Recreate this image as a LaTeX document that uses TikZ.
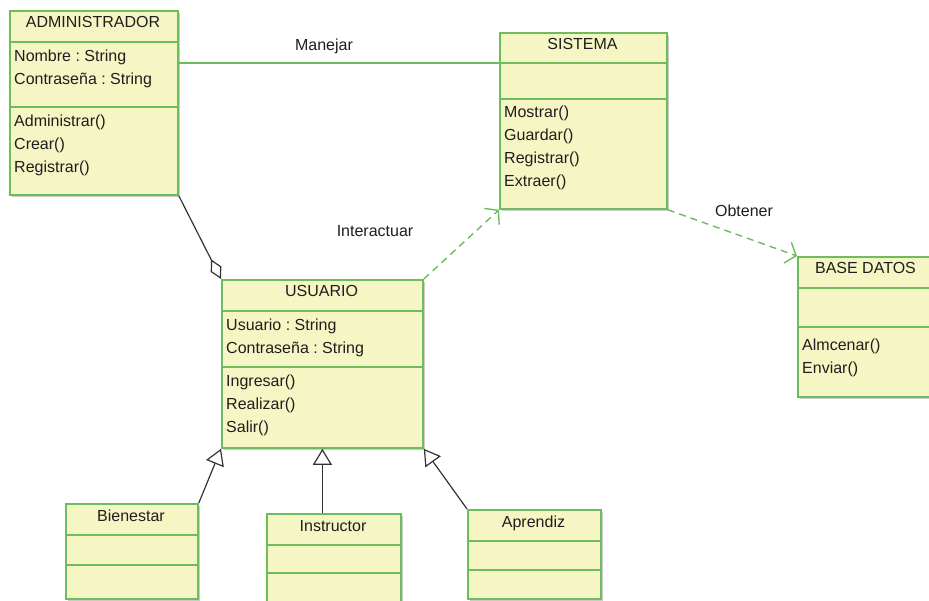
\documentclass[tikz,border=0pt]{standalone}
\usepackage{fontspec}
\setmainfont{Liberation Sans}
\usetikzlibrary{arrows.meta,shadows}
\frenchspacing

\definecolor{umlfill}{RGB}{246,246,196}
\definecolor{umlline}{RGB}{108,190,92}
\definecolor{umltext}{RGB}{30,30,30}

\tikzset{
  classbox/.style={draw=umlline,fill=umlfill,line width=1.8pt,inner sep=0pt,anchor=north west,
    drop shadow={shadow xshift=2pt,shadow yshift=-2pt,opacity=0.5,fill=black!40}},
  divider/.style={draw=umlline,line width=1.5pt},
  member/.style={font=\fontsize{16}{20}\selectfont,text=umltext,anchor=base west,inner sep=0pt},
  title/.style={member,anchor=base},
  assoc/.style={draw=umlline,line width=1.2pt},
  depend/.style={draw=umlline,line width=1.4pt,dash pattern=on 7pt off 5pt,
    -{Straight Barb[length=9pt,width=22pt,line width=1.4pt]}},
  aggreg/.style={draw=black!80,line width=1.2pt,{Diamond[open,length=22pt,width=12pt,fill=white]}-},
  inherit/.style={draw=black!80,line width=1.2pt,-{Triangle[open,length=16pt,width=19pt,fill=white]}},
}

\begin{document}
\begin{tikzpicture}[x=1pt,y=-1pt]
  \useasboundingbox[fill=white] (0,0) rectangle (929,601);

  % class boxes: name/left/top/right/bottom/divider1/divider2/title
  \foreach \n/\l/\t/\r/\b/\da/\db/\title in {
      admin/9/10/177/194/42/107/ADMINISTRADOR,
      sistema/499/32/666/208/63/99/SISTEMA,
      base/797/256/934/396/288/327/BASE DATOS,
      usuario/221/279/422/447/311/367/USUARIO,
      bienestar/65/503/197/598/535/565/Bienestar,
      instructor/266/513/400/610/545/573/Instructor,
      aprendiz/467/509/600/598/541/570/Aprendiz} {
    \node[classbox,minimum width={(\r-\l)*1pt},minimum height={(\b-\t)*1pt}] (\n) at (\l,\t) {};
    \draw[divider] (\l,\da) -- (\r,\da);
    \draw[divider] (\l,\db) -- (\r,\db);
    \coordinate (\n-da) at (\l,\da);
    \node[title] (\n-title) at ({(\l+\r)/2},\t+18) {\title};
  }

  % attributes and operations: name/left/first baseline/lines
  \foreach \n/\l/\y/\lines in {
      adminattr/9/62/{Nombre : String,Contraseña : String},
      adminop/9/127/{Administrar(),Crear(),Registrar()},
      sistemaop/499/118/{Mostrar(),Guardar(),Registrar(),Extraer()},
      baseop/797/351/{Almcenar(),Enviar()},
      usuarioattr/221/331/{Usuario : String,Contraseña : String},
      usuarioop/221/387/{Ingresar(),Realizar(),Salir()}} {
    \foreach \s [count=\i] in \lines {
      \node[member] (\n-\i) at (\l+5,\y+22.8*\i-22.8) {\s};
    }
  }

  % relations
  \draw[assoc] (admin.east |- sistema-da) -- (sistema-da);
  \node[member,anchor=base] (manejar) at (324,51) {Manejar};

  \draw[depend] (usuario.north east) -- (sistema.south west);
  \node[member,anchor=base] (interactuar) at (375,237) {Interactuar};

  \draw[depend] (sistema.south east) -- (base.north west);
  \node[member,anchor=base] (obtener) at (744,217) {Obtener};

  \draw[aggreg] (usuario.north west) -- (admin.south east);

  \draw[inherit] (bienestar.north east) -- (usuario.south west);
  \draw[inherit] (usuario.south |- instructor.north) -- (usuario.south);
  \draw[inherit] (aprendiz.north west) -- (usuario.south east);
\end{tikzpicture}
\end{document}
